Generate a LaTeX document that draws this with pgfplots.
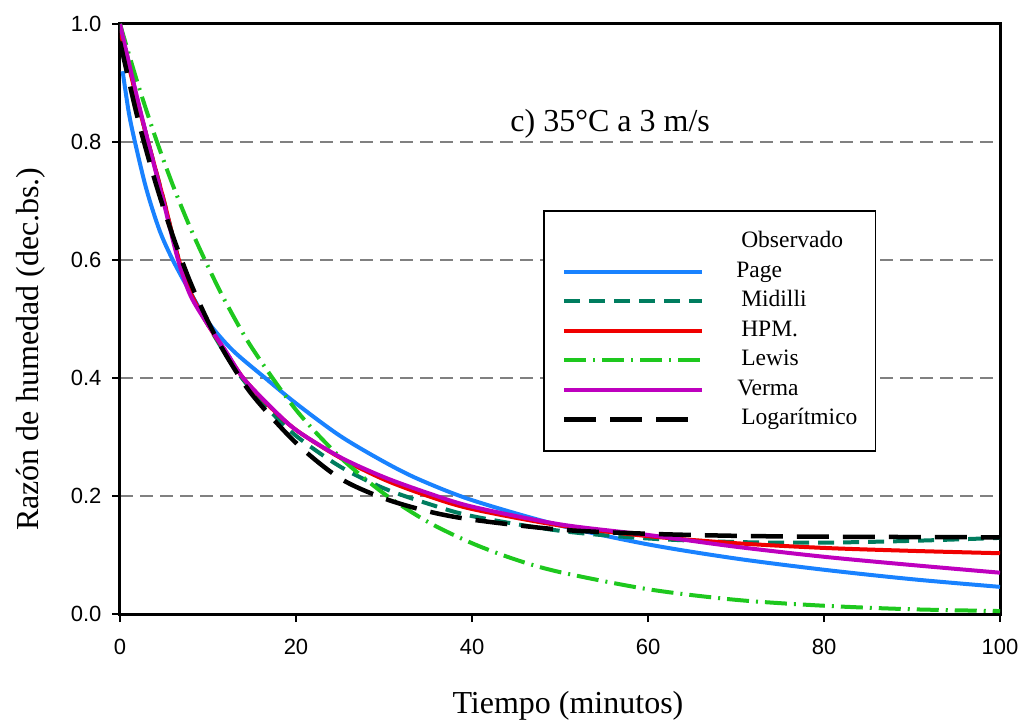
\documentclass[border=0pt]{standalone}
\usepackage{fontspec}
\setmainfont{Liberation Serif}
\newfontfamily\sansf{Liberation Sans}
\usepackage{pgfplots}
\pgfplotsset{compat=1.18}
\definecolor{pageblue}{RGB}{25,130,255}
\definecolor{midteal}{RGB}{0,125,95}
\definecolor{hpmred}{RGB}{240,0,0}
\definecolor{lewisgreen}{RGB}{30,200,30}
\definecolor{vermamag}{RGB}{190,0,190}
\definecolor{gridgray}{RGB}{128,128,128}
\begin{document}
\begin{tikzpicture}
\begin{axis}[name=ax, scale only axis, width=880pt, height=590pt,
  xmin=0, xmax=100, ymin=0, ymax=1,
  xtick={0,20,40,60,80,100}, ytick={0,0.2,0.4,0.6,0.8,1},
  axis line style={black, line width=3pt},
  tick align=outside, tick pos=left, major tick length=8pt,
  tick style={black, line width=2.5pt},
  /pgf/number format/assume math mode=true,
  ticklabel style={font=\sansf\fontsize{22}{22}\selectfont},
  yticklabel style={xshift=-7pt, /pgf/number format/.cd, fixed, fixed zerofill, precision=1},
  xticklabel style={yshift=-14pt, /pgf/number format/.cd, fixed, precision=0},
  ymajorgrids, grid style={gridgray, line width=2pt, dash pattern=on 13pt off 7pt},
  xlabel={Tiempo (minutos)}, ylabel={Razón de humedad (dec.bs.)},
  label style={font=\fontsize{32}{32}\selectfont},
  xlabel style={at={(axis description cs:0.509,0)}, anchor=base, yshift=-99pt},
  ylabel style={at={(axis description cs:-0.0925,0.449)}, anchor=base},
  legend style={at={(rel axis cs:0.4807,0.6847)}, anchor=north west, draw=black, line width=1.5pt,
    inner xsep=18pt, inner ysep=20pt, row sep=6.5pt, column sep=37pt,
    font=\fontsize{23.5}{23.5}\selectfont,
    nodes={inner sep=0pt, text height=17pt, text depth=6pt}},
  legend cell align=left,
  legend image code/.code={\draw[#1] (0pt,0pt) -- (138pt,0pt);},
]
\addlegendimage{draw opacity=0}
\addlegendentry{Observado}

\addplot[pageblue, line width=4pt, smooth] coordinates {
(0.3,0.92) (1,0.85) (1.7,0.80) (3,0.72) (4.5,0.65) (6,0.60) (8,0.545) (10,0.495)
(12.8,0.447) (16.5,0.40) (20,0.357) (25,0.302) (30,0.258) (34,0.228) (40,0.193)
(50,0.150) (60,0.118) (70,0.094) (80,0.075) (90,0.059) (100,0.046)};
\addlegendentry{\hspace*{-5pt}Page}

\addplot[midteal, line width=4pt, smooth, dash pattern=on 16pt off 9pt] coordinates {
(0,1.0) (2,0.87) (3.2,0.80) (5,0.70) (6.6,0.605) (8,0.545) (10,0.49) (12,0.44)
(14,0.397) (17,0.345) (20,0.302) (25,0.250) (30,0.213) (35,0.187) (40,0.166)
(50,0.141) (60,0.128) (70,0.122) (80,0.121) (90,0.124) (100,0.129)};
\addlegendentry{Midilli}

\addplot[hpmred, line width=4pt, smooth] coordinates {
(0,0.99) (2,0.868) (3.2,0.80) (5,0.70) (6.6,0.605) (8,0.545) (10,0.49) (12,0.445)
(14,0.40) (17,0.352) (20,0.312) (25,0.265) (30,0.228) (35,0.200) (40,0.178)
(50,0.150) (60,0.132) (70,0.120) (80,0.112) (90,0.107) (100,0.103)};
\addlegendentry{HPM.}

\addplot[lewisgreen, line width=4pt, smooth, dash pattern=on 22pt off 7pt on 2pt off 7pt] coordinates {
(0,1.0) (2,0.90) (4,0.809) (6,0.727) (8,0.654) (10,0.589) (12,0.529) (15,0.451)
(20,0.346) (25,0.266) (30,0.204) (35,0.156) (40,0.120) (45,0.092) (50,0.071)
(60,0.042) (70,0.024) (80,0.014) (90,0.008) (100,0.005)};
\addlegendentry{Lewis}

\addplot[vermamag, line width=4pt, smooth] coordinates {
(0,1.0) (1,0.935) (2,0.872) (3.2,0.80) (5,0.695) (6.6,0.60) (8,0.54) (10,0.49)
(12,0.446) (14,0.40) (17,0.353) (20,0.312) (25,0.266) (30,0.232) (35,0.205)
(40,0.182) (50,0.152) (60,0.134) (70,0.114) (80,0.097) (90,0.083) (100,0.070)};
\addlegendentry{\hspace*{-4pt}Verma}

\addplot[black, line width=4.5pt, smooth, dash pattern=on 32pt off 14pt] coordinates {
(0,0.97) (2,0.841) (4,0.733) (6,0.641) (8,0.562) (10,0.496) (12,0.440) (15,0.372)
(20,0.290) (25,0.230) (30,0.196) (35,0.174) (40,0.160) (50,0.143) (60,0.136)
(70,0.1325) (80,0.131) (100,0.130)};
\addlegendentry{Logarítmico}

\node[anchor=base, font=\fontsize{32}{32}\selectfont] at (axis cs:55.7,0.8186) {c) 35°C a 3 m/s};
\end{axis}
\pgfresetboundingbox
\path[use as bounding box] ([xshift=-120pt,yshift=-107pt]ax.south west) rectangle ([xshift=21pt,yshift=24pt]ax.north east);
\end{tikzpicture}
\end{document}
